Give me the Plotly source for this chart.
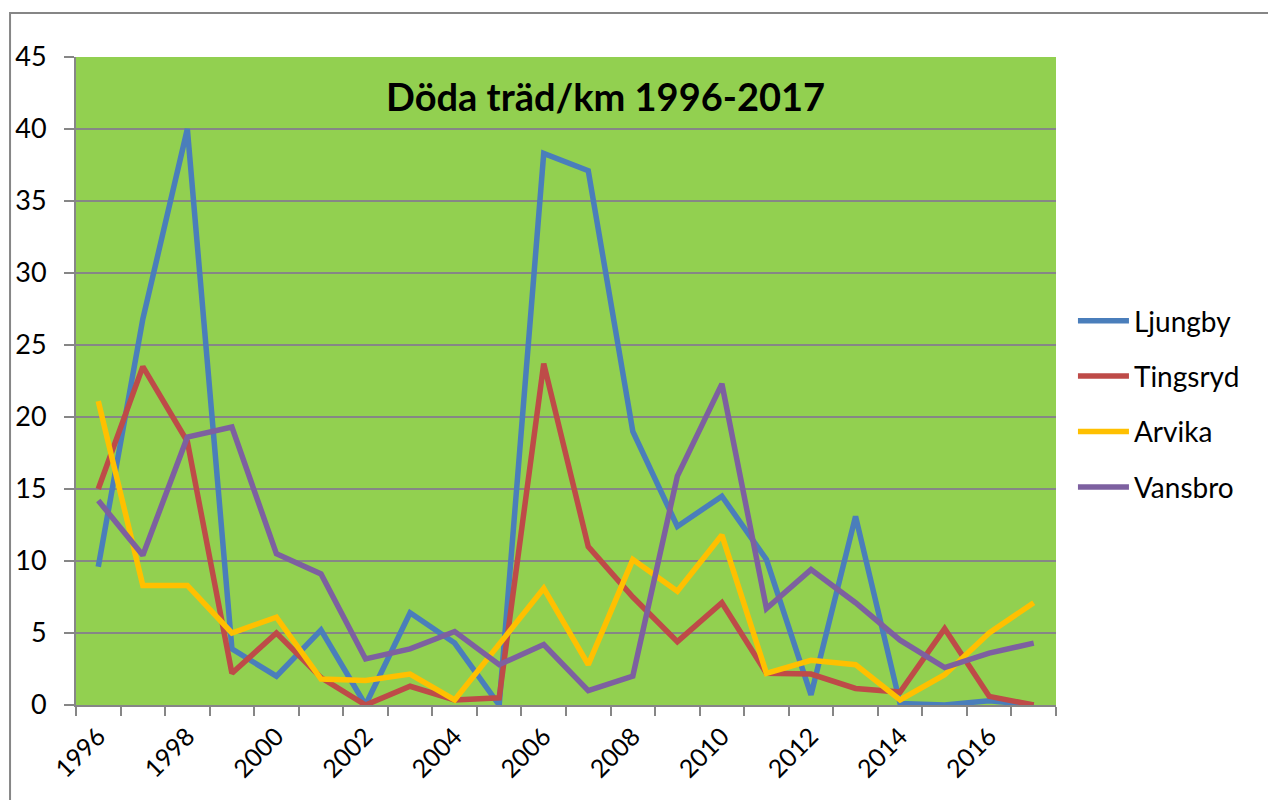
import plotly.graph_objects as go

years = list(range(1996, 2018))

ljungby = [9.6, 26.8, 40.0, 3.9, 2.0, 5.2, 0.0, 6.4, 4.3, 0.0, 38.3, 37.1,
           19.0, 12.4, 14.5, 10.1, 0.7, 13.1, 0.1, 0.0, 0.3, 0.0]
tingsryd = [15.0, 23.5, 18.3, 2.2, 5.0, 1.9, 0.0, 1.3, 0.35, 0.5, 23.7, 11.0,
            7.5, 4.4, 7.1, 2.2, 2.15, 1.15, 0.9, 5.3, 0.6, 0.0]
arvika = [21.1, 8.3, 8.3, 5.0, 6.1, 1.8, 1.7, 2.15, 0.35, 4.2, 8.1, 2.8,
          10.1, 7.9, 11.8, 2.2, 3.1, 2.8, 0.35, 2.1, 5.0, 7.1]
vansbro = [14.2, 10.4, 18.6, 19.3, 10.5, 9.1, 3.2, 3.9, 5.1, 2.8, 4.2, 1.0,
           2.0, 15.9, 22.3, 6.7, 9.4, 7.1, 4.5, 2.6, 3.6, 4.3]

series = [
    ("Ljungby", ljungby, "#4A7EBB"),
    ("Tingsryd", tingsryd, "#BE4B48"),
    ("Arvika", arvika, "#FFC000"),
    ("Vansbro", vansbro, "#7D60A0"),
]

idx = list(range(len(years)))
grey = "#868686"
font = "Lato, 'Open Sans', sans-serif"

fig = go.Figure()
for name, vals, color in series:
    fig.add_trace(go.Scatter(
        x=idx, y=vals, name=name, mode="lines", legendgroup=name,
        line=dict(color=color, width=5.5),
    ))

# the page body adds an 8px offset, so margins are 8px smaller than measured
fig.update_layout(
    width=1276, height=800,
    margin=dict(l=68, r=228, t=49, b=103),
    paper_bgcolor="white",
    plot_bgcolor="#92D050",
    font=dict(family=font, size=27, color="black"),
    showlegend=True,
    legend=dict(x=1.0173, xanchor="left", y=0.4645, yanchor="middle",
                font=dict(size=28), tracegroupgap=16, itemwidth=51,
                traceorder="grouped", bgcolor="rgba(0,0,0,0)"),
    annotations=[dict(
        text="<b>Döda träd/km 1996-2017</b>", x=0.54, y=0.94,
        xref="paper", yref="paper", xanchor="center", yanchor="middle",
        showarrow=False,
        font=dict(family=font, size=38, color="black"),
    )],
    shapes=[dict(
        type="rect", xref="paper", yref="paper",
        x0=-0.0673, x1=1.2224, y0=-0.17, y1=1.068,
        line=dict(color=grey, width=2), layer="below",
    )],
)

fig.update_yaxes(
    range=[0, 45], dtick=5, showgrid=True, gridcolor=grey, gridwidth=2,
    showline=True, linecolor=grey, linewidth=2, ticks="outside",
    ticklen=10, tickcolor=grey, tickwidth=2, ticklabelstandoff=12,
    zeroline=False, fixedrange=True, automargin=False,
)
fig.update_xaxes(
    range=[-0.5, len(years) - 0.5],
    tickmode="array",
    tickvals=idx[::2],
    ticktext=[str(y) for y in years[::2]],
    tickangle=-45, ticks="", showgrid=False, zeroline=False,
    showline=True, linecolor=grey, linewidth=2,
    tickfont=dict(size=25),
    minor=dict(tickmode="array",
               tickvals=[i - 0.5 for i in range(len(years) + 1)],
               ticks="outside", ticklen=9, tickcolor=grey, tickwidth=2,
               showgrid=False),
    ticklabelstandoff=5, automargin=False,
)

fig.write_html("out.html")
